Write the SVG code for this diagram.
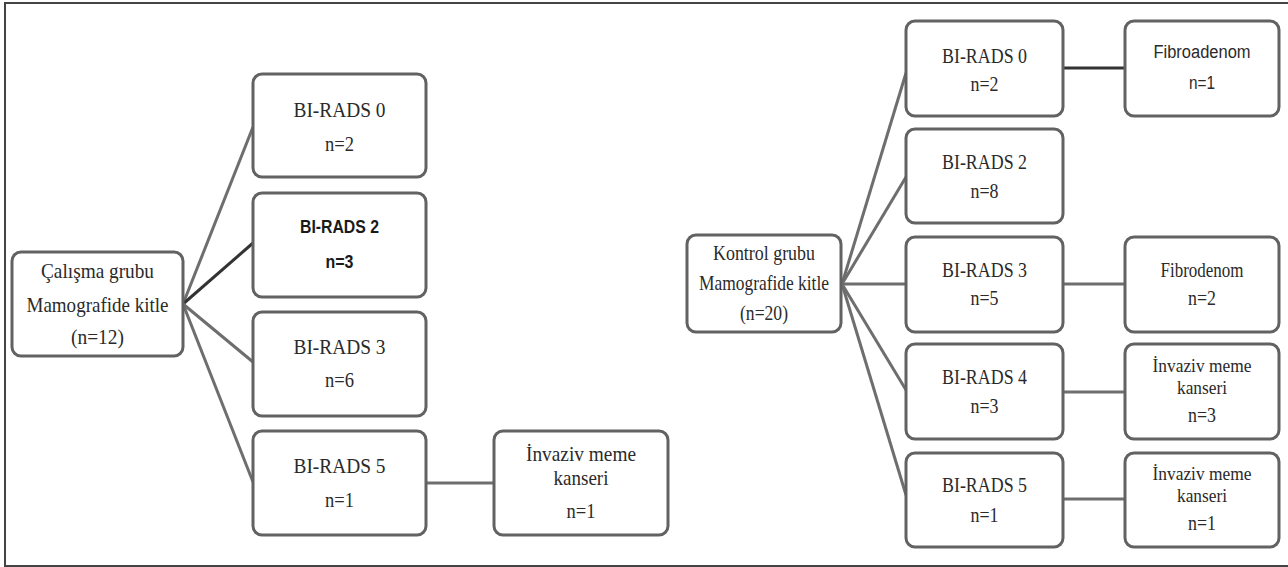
<svg xmlns="http://www.w3.org/2000/svg" width="1288" height="567" viewBox="0 0 1288 567">
<style>
.box{fill:#fff;stroke:#626262;stroke-width:3}
.t{font-family:"Liberation Serif","Times New Roman",serif;font-size:22px;fill:#2a2a2a;text-anchor:middle}
.r{font-size:21px}
.q{font-size:19px}
.s{font-family:"Liberation Sans",Arial,sans-serif;font-size:18px;fill:#2a2a2a;text-anchor:middle}
.b{font-weight:bold;fill:#1a1a1a}
.c{stroke:#6e6e6e;stroke-width:3;fill:none}
.d{stroke:#333;stroke-width:3;fill:none}
.frame{stroke:#444;stroke-width:2;fill:none}
</style>
<rect width="1288" height="567" fill="#fff"/>
<path class="frame" d="M1288 3 H5 V566 H1288"/>
<g id="connectors">
<line class="c" x1="183" y1="304" x2="253" y2="127"/>
<line class="d" x1="183" y1="304" x2="253" y2="243"/>
<line class="c" x1="183" y1="304" x2="253" y2="362"/>
<line class="c" x1="183" y1="304" x2="253" y2="482"/>
<line class="c" x1="426" y1="483" x2="494" y2="483"/>
<line class="c" x1="842" y1="284" x2="906" y2="73"/>
<line class="c" x1="842" y1="284" x2="906" y2="177"/>
<line class="c" x1="842" y1="284" x2="906" y2="284"/>
<line class="c" x1="842" y1="284" x2="906" y2="390"/>
<line class="c" x1="842" y1="284" x2="906" y2="495"/>
<line class="d" x1="1063" y1="68" x2="1125" y2="68"/>
<line class="c" x1="1063" y1="284" x2="1125" y2="284"/>
<line class="c" x1="1063" y1="392" x2="1125" y2="392"/>
<line class="c" x1="1063" y1="499" x2="1125" y2="499"/>
</g>
<g id="calisma">
<rect class="box" x="12" y="252" width="171" height="104" rx="9"/>
<text class="t" x="97.5" y="278" textLength="113" lengthAdjust="spacingAndGlyphs">Çalışma grubu</text>
<text class="t" x="97.5" y="312" textLength="142" lengthAdjust="spacingAndGlyphs">Mamografide kitle</text>
<text class="t" x="97.5" y="344" textLength="53" lengthAdjust="spacingAndGlyphs">(n=12)</text>
</g>
<g id="l-birads0">
<rect class="box" x="253" y="74" width="173" height="103" rx="9"/>
<text class="t" x="339.5" y="117" textLength="92" lengthAdjust="spacingAndGlyphs">BI-RADS 0</text>
<text class="t" x="339.5" y="151" textLength="29" lengthAdjust="spacingAndGlyphs">n=2</text>
</g>
<g id="l-birads2">
<rect class="box" x="253" y="193" width="173" height="104" rx="9"/>
<text class="s b" x="339.5" y="233" textLength="79" lengthAdjust="spacingAndGlyphs">BI-RADS 2</text>
<text class="s b" x="339.5" y="268" textLength="28" lengthAdjust="spacingAndGlyphs">n=3</text>
</g>
<g id="l-birads3">
<rect class="box" x="253" y="312" width="173" height="104" rx="9"/>
<text class="t" x="339.5" y="354" textLength="92" lengthAdjust="spacingAndGlyphs">BI-RADS 3</text>
<text class="t" x="339.5" y="387" textLength="29" lengthAdjust="spacingAndGlyphs">n=6</text>
</g>
<g id="l-birads5">
<rect class="box" x="253" y="431" width="173" height="104" rx="9"/>
<text class="t" x="339.5" y="473" textLength="92" lengthAdjust="spacingAndGlyphs">BI-RADS 5</text>
<text class="t" x="339.5" y="507" textLength="29" lengthAdjust="spacingAndGlyphs">n=1</text>
</g>
<g id="l-invaziv">
<rect class="box" x="494" y="431" width="174" height="104" rx="9"/>
<text class="t" x="581" y="461" textLength="110" lengthAdjust="spacingAndGlyphs">İnvaziv meme</text>
<text class="t" x="581" y="485" textLength="55" lengthAdjust="spacingAndGlyphs">kanseri</text>
<text class="t" x="581" y="518" textLength="29" lengthAdjust="spacingAndGlyphs">n=1</text>
</g>
<g id="kontrol">
<rect class="box" x="687" y="235" width="154" height="97" rx="9"/>
<text class="t r" x="764" y="260" textLength="102" lengthAdjust="spacingAndGlyphs">Kontrol grubu</text>
<text class="t r" x="764" y="290" textLength="130" lengthAdjust="spacingAndGlyphs">Mamografide kitle</text>
<text class="t r" x="764" y="320" textLength="48" lengthAdjust="spacingAndGlyphs">(n=20)</text>
</g>
<g id="r-birads0">
<rect class="box" x="906" y="21" width="157" height="95" rx="9"/>
<text class="t r" x="984.5" y="63" textLength="85" lengthAdjust="spacingAndGlyphs">BI-RADS 0</text>
<text class="t r" x="984.5" y="91" textLength="28" lengthAdjust="spacingAndGlyphs">n=2</text>
</g>
<g id="r-birads2">
<rect class="box" x="906" y="129" width="157" height="94" rx="9"/>
<text class="t r" x="984.5" y="169" textLength="85" lengthAdjust="spacingAndGlyphs">BI-RADS 2</text>
<text class="t r" x="984.5" y="198" textLength="28" lengthAdjust="spacingAndGlyphs">n=8</text>
</g>
<g id="r-birads3">
<rect class="box" x="906" y="237" width="157" height="95" rx="9"/>
<text class="t r" x="984.5" y="277" textLength="85" lengthAdjust="spacingAndGlyphs">BI-RADS 3</text>
<text class="t r" x="984.5" y="305" textLength="28" lengthAdjust="spacingAndGlyphs">n=5</text>
</g>
<g id="r-birads4">
<rect class="box" x="906" y="344" width="157" height="95" rx="9"/>
<text class="t r" x="984.5" y="384" textLength="85" lengthAdjust="spacingAndGlyphs">BI-RADS 4</text>
<text class="t r" x="984.5" y="413" textLength="28" lengthAdjust="spacingAndGlyphs">n=3</text>
</g>
<g id="r-birads5">
<rect class="box" x="906" y="453" width="157" height="94" rx="9"/>
<text class="t r" x="984.5" y="492" textLength="85" lengthAdjust="spacingAndGlyphs">BI-RADS 5</text>
<text class="t r" x="984.5" y="522" textLength="28" lengthAdjust="spacingAndGlyphs">n=1</text>
</g>
<g id="fibroadenom">
<rect class="box" x="1125" y="21" width="154" height="95" rx="9"/>
<text class="s" x="1202" y="58" textLength="97" lengthAdjust="spacingAndGlyphs">Fibroadenom</text>
<text class="s" x="1202" y="89" textLength="26" lengthAdjust="spacingAndGlyphs">n=1</text>
</g>
<g id="fibrodenom">
<rect class="box" x="1125" y="237" width="154" height="95" rx="9"/>
<text class="t r" x="1202" y="277" textLength="83" lengthAdjust="spacingAndGlyphs">Fibrodenom</text>
<text class="t r" x="1202" y="305" textLength="28" lengthAdjust="spacingAndGlyphs">n=2</text>
</g>
<g id="r-invaziv4">
<rect class="box" x="1125" y="344" width="154" height="95" rx="9"/>
<text class="t q" x="1202" y="372" textLength="99" lengthAdjust="spacingAndGlyphs">İnvaziv meme</text>
<text class="t q" x="1202" y="394" textLength="50" lengthAdjust="spacingAndGlyphs">kanseri</text>
<text class="t r" x="1202" y="422" textLength="28" lengthAdjust="spacingAndGlyphs">n=3</text>
</g>
<g id="r-invaziv5">
<rect class="box" x="1125" y="453" width="154" height="94" rx="9"/>
<text class="t q" x="1202" y="480" textLength="99" lengthAdjust="spacingAndGlyphs">İnvaziv meme</text>
<text class="t q" x="1202" y="502" textLength="50" lengthAdjust="spacingAndGlyphs">kanseri</text>
<text class="t r" x="1202" y="530" textLength="28" lengthAdjust="spacingAndGlyphs">n=1</text>
</g>
</svg>
